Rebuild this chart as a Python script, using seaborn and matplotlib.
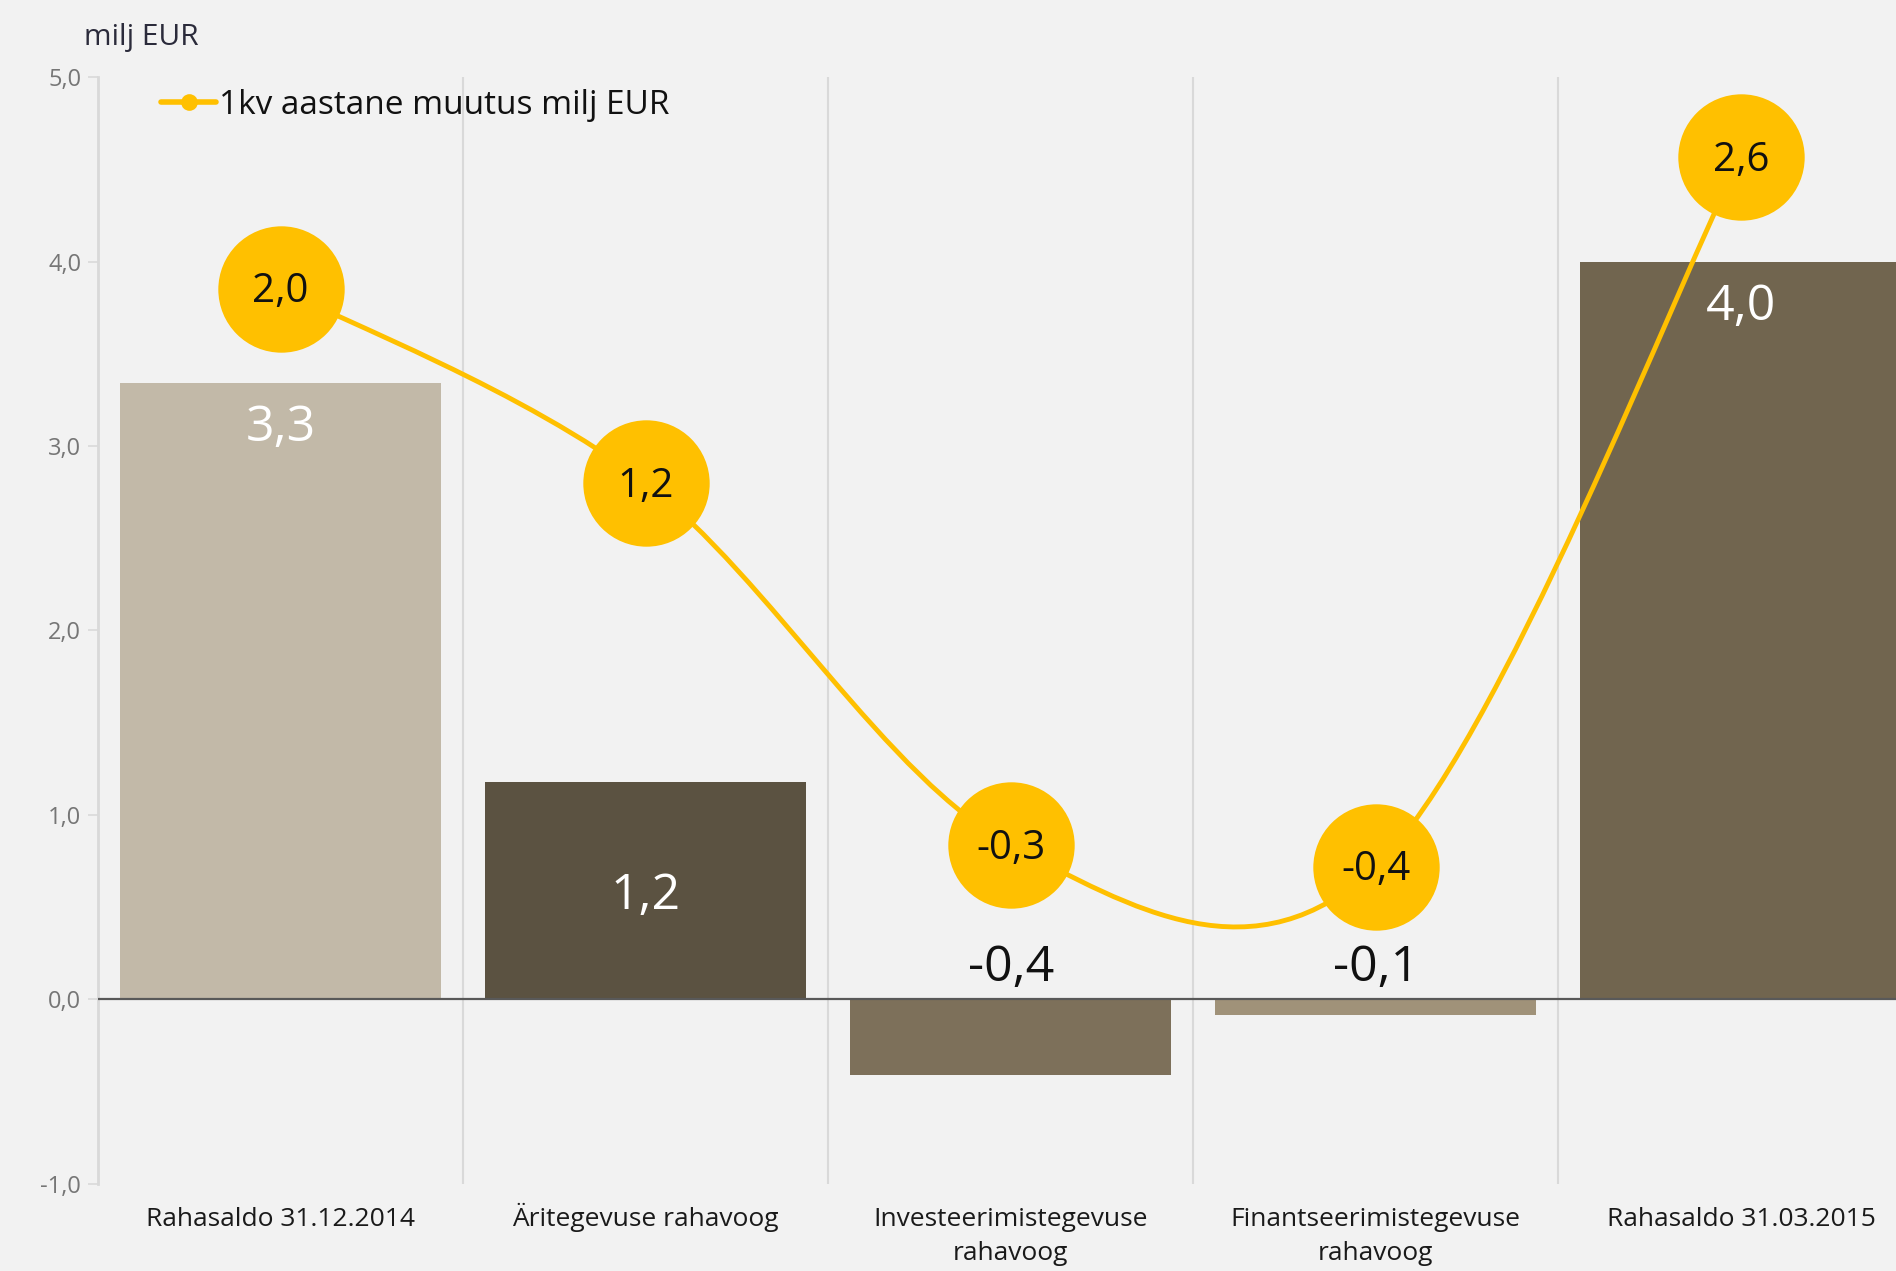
import numpy as np
import pandas as pd
import matplotlib
matplotlib.use("Agg")
import matplotlib.pyplot as plt
from matplotlib.path import Path
from matplotlib.patches import PathPatch
from matplotlib.lines import Line2D
import seaborn as sns

categories = ["Rahasaldo 31.12.2014", "Äritegevuse rahavoog",
              "Investeerimistegevuse\nrahavoog", "Finantseerimistegevuse\nrahavoog",
              "Rahasaldo 31.03.2015"]
bar_values = [3.34, 1.18, -0.41, -0.085, 4.0]
line_values = [2.01, 1.20, -0.31, -0.40, 2.56]
bar_colors = ["#c2b9a8", "#5b5241", "#7d705a", "#a09279", "#71654f"]
yticks = [-1.0, 0.0, 1.0, 2.0, 3.0, 4.0, 5.0]
line_label = "1kv aastane muutus milj EUR"
unit_label = "milj EUR"

BG = "#f2f2f2"
GOLD = "#ffc000"
FONT = ["Open Sans", "DejaVu Sans"]

sns.set_theme(style="white")
plt.rcParams["font.family"] = FONT

def fmt(v):
    return f"{round(v, 1):.1f}".replace(".", ",").replace("-0,0", "0,0")

df = pd.DataFrame({"cat": categories, "val": bar_values})

fig = plt.figure(figsize=(18.96, 12.71), dpi=100, facecolor=BG)
ax = fig.add_axes([0.0517, 0.0687, 0.9628, 0.8705])
ax.set_facecolor(BG)

sns.barplot(data=df, x="cat", y="val", hue="cat", palette=bar_colors,
            width=0.88, legend=False, ax=ax, saturation=1, zorder=2,
            linewidth=0, edgecolor="none")

ax.set_xlim(-0.5, 4.5)
ax.set_ylim(-1.0, 5.0)
ax.set_yticks(yticks)
ax.set_yticklabels([fmt(t) for t in yticks], color="#767676", fontsize=17)
ax.tick_params(axis="y", which="major", length=7, width=1.2, color="#d9d9d9",
               direction="out", pad=5, left=True)
# all labels as two lines so first-line baselines align
xlabels = [c if "\n" in c else c + "\n " for c in categories]
ax.set_xticks(range(len(categories)))
ax.set_xticklabels(xlabels)
ax.tick_params(axis="x", length=0, pad=55, labelsize=19, colors="#1a1a1a")
ax.set_xlabel("")
ax.set_ylabel("")
for lbl in ax.get_xticklabels():
    lbl.set_linespacing(1.5)
    lbl.set_verticalalignment("baseline")

for s in ["top", "right", "bottom"]:
    ax.spines[s].set_visible(False)
ax.spines["left"].set_color("#d9d9d9")
ax.spines["left"].set_linewidth(2)

# category separators
ax.vlines([0.5, 1.5, 2.5, 3.5], -1.0, 5.0, colors="#d9d9d9", linewidth=1.5, zorder=1)
ax.axhline(0, color="#595959", linewidth=1.6, zorder=3)

# bar labels
for i, v in enumerate(bar_values):
    if v < 0:
        ax.text(i, 0.17, fmt(v), ha="center", va="center", fontsize=36,
                color="#111111", zorder=4)
    elif v < 2:
        ax.text(i, v / 2 - 0.03, fmt(v), ha="center", va="center", fontsize=36,
                color="white", zorder=4)
    else:
        ax.text(i, v - 0.245, fmt(v), ha="center", va="center", fontsize=36,
                color="white", zorder=4)

# secondary axis for the line
ax2 = ax.twinx()
ax2.set_ylim(-1.723, 2.892)
ax2.set_axis_off()

xs = np.arange(len(line_values), dtype=float)
ys = np.array(line_values, dtype=float)
pts = np.column_stack([xs, ys])
verts = [pts[0]]
codes = [Path.MOVETO]
n = len(pts)
for i in range(n - 1):
    p0 = pts[i - 1] if i > 0 else pts[i]
    p1 = pts[i]
    p2 = pts[i + 1]
    p3 = pts[i + 2] if i + 2 < n else pts[i + 1]
    c1 = p1 + (p2 - p0) / 6.0
    c2 = p2 - (p3 - p1) / 6.0
    verts += [c1, c2, p2]
    codes += [Path.CURVE4] * 3
ax2.add_patch(PathPatch(Path(verts, codes), facecolor="none", edgecolor=GOLD,
                        linewidth=3.5, zorder=5))

ldf = pd.DataFrame({"x": xs, "y": ys})
sns.scatterplot(data=ldf, x="x", y="y", ax=ax2, marker="o", s=91 ** 2,
                color=GOLD, linewidth=0, zorder=6, legend=False)
ax2.set_xlim(-0.5, 4.5)
for x, v in zip(xs, ys):
    ax2.annotate(fmt(v), (x, v), xytext=(0, -2.5), textcoords="offset points",
                 ha="center", va="center", fontsize=29, color="#111111", zorder=7)

handle = Line2D([0], [0], color=GOLD, linewidth=4, marker="o", markersize=12,
                markerfacecolor=GOLD, markeredgewidth=0)
fig.legend([handle], [line_label], loc="center left",
           bbox_to_anchor=(161 / 1896, 1 - 105.5 / 1271), frameon=False,
           fontsize=24, handlelength=1.65, handletextpad=0.1, borderaxespad=0,
           borderpad=0, labelcolor="#111111")

fig.text(84 / 1896, 1 - 37 / 1271, unit_label, ha="left", va="center",
         fontsize=21.5, color="#2b2b3b")

fig.savefig("out.png", dpi=100, facecolor=BG)
